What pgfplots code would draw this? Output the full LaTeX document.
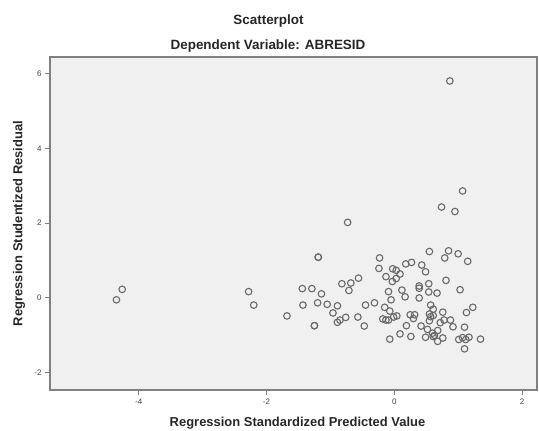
\documentclass[border=0pt]{standalone}
\usepackage{fontspec}
\setmainfont{Liberation Sans}
\usepackage{pgfplots}
\pgfplotsset{compat=1.18}
\definecolor{bgc}{HTML}{F0F0F0}
\definecolor{axc}{HTML}{808080}
\definecolor{tkc}{HTML}{404040}
\definecolor{mkc}{HTML}{6A6A6A}
\begin{document}
\begin{tikzpicture}[x=1bp,y=1bp]
\begin{axis}[
  at={(0,0)}, anchor=south west,
  scale only axis, width=487bp, height=333bp,
  xmin=-5.39, xmax=2.235, ymin=-2.46, ymax=6.44,
  xtick={-4,-2,0,2}, ytick={-2,0,2,4,6},
  tick align=outside, tick pos=left, major tick length=5bp,
  axis background/.style={fill=bgc},
  axis line style={draw=axc, line width=1.2bp},
  tick style={draw=axc, line width=1bp},
  ticklabel style={font=\fontsize{8}{9}\selectfont, text=tkc},
  /pgf/number format/assume math mode=true,
  xlabel={Regression Standardized Predicted Value},
  ylabel={Regression Studentized Residual},
  label style={font=\bfseries\fontsize{13}{15}\selectfont, text=black!85},
  xlabel style={at={(axis description cs:0.5,0)}, anchor=center, yshift=-33bp, xshift=4bp},
  ylabel style={at={(axis description cs:0,0.5)}, anchor=center, yshift=31bp},
  clip=false,
]
\addplot[only marks, mark=o, mark size=3.3bp, mark options={draw=mkc, line width=1.1bp}] coordinates {
(-4.35,-0.05) (-4.26,0.23) (-2.28,0.17) (-2.20,-0.19)
(0.87,5.80) (1.07,2.86) (0.74,2.43) (0.95,2.31) (-0.73,2.02)
(-1.19,1.09) (-1.19,1.09) (-1.68,-0.48) (-1.44,0.25) (-1.29,0.25) (-1.14,0.11)
(-1.43,-0.19) (-1.20,-0.13) (-1.05,-0.17) (-0.89,-0.21) (-0.96,-0.40)
(-1.25,-0.74) (-1.25,-0.74) (-0.89,-0.65) (-0.85,-0.59) (-0.76,-0.52)
(-0.82,0.38) (-0.68,0.40) (-0.56,0.53) (-0.71,0.20) (-0.57,-0.51)
(-0.47,-0.75) (-0.45,-0.19) (-0.31,-0.13) (-0.23,1.07) (-0.24,0.79)
(-0.13,0.57) (-0.15,-0.25) (-0.18,-0.56) (-0.13,-0.59) (-0.09,0.17)
(-0.07,-1.10) (-0.025,0.78) (0.03,0.74) (0.09,0.64) (0.03,0.52)
(-0.03,0.44) (0.18,0.91) (0.27,0.95) (0.43,0.88) (0.49,0.70)
(0.55,1.24) (0.85,1.26) (0.79,1.07) (1.00,1.18) (1.15,0.98)
(0.81,0.47) (1.03,0.22) (-0.05,-0.05) (0.12,0.21) (0.17,0.03)
(0.39,0.32) (0.39,0.26) (0.39,0.00) (0.54,0.38) (0.54,0.16)
(0.67,0.13) (-0.07,-0.35) (-0.09,-0.59) (-0.01,-0.51) (0.04,-0.48)
(0.25,-0.45) (0.32,-0.45) (0.30,-0.55) (0.57,-0.19) (0.61,-0.30)
(0.55,-0.43) (0.57,-0.50) (0.61,-0.47) (0.55,-0.61) (0.76,-0.38)
(0.72,-0.66) (0.78,-0.59) (0.88,-0.59) (0.92,-0.77) (1.13,-0.39)
(1.23,-0.25) (0.19,-0.74) (0.09,-0.96) (0.26,-1.03) (0.42,-0.75)
(0.52,-0.84) (0.49,-1.05) (0.60,-0.94) (0.63,-1.00) (0.61,-1.03)
(0.68,-0.87) (0.68,-1.16) (0.76,-1.07) (1.10,-0.78) (1.01,-1.11)
(1.07,-1.06) (1.12,-1.11) (1.17,-1.05) (1.35,-1.10) (1.10,-1.36)
};
\end{axis}
\node[anchor=base, font=\bfseries\fontsize{13.5}{16}\selectfont, text=black!85] at (218.5,366) {Scatterplot};
\node[anchor=base, font=\bfseries\fontsize{13.5}{16}\selectfont, text=black!85] at (218,341) {Dependent Variable: ABRESID};
\pgfresetboundingbox
\path (-50,-40) rectangle (489,390);
\end{tikzpicture}
\end{document}
